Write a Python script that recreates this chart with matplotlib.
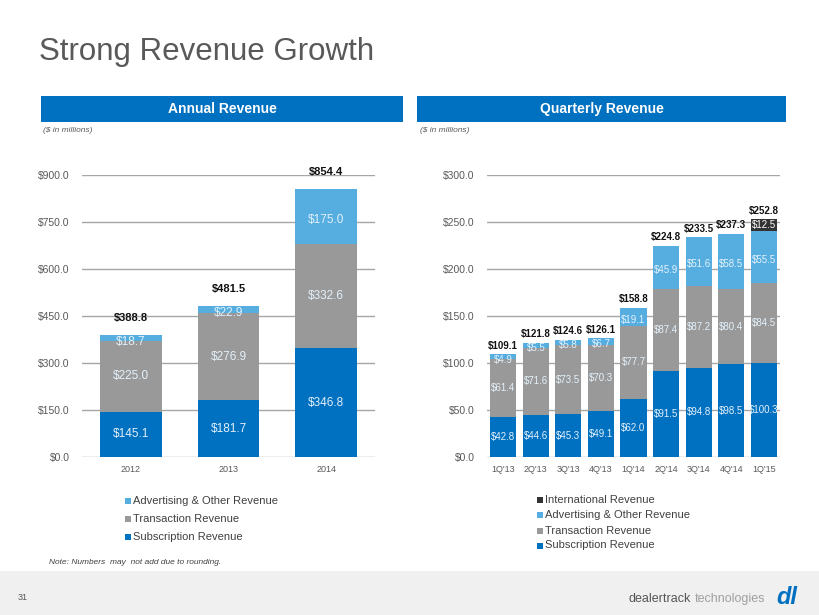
import matplotlib
matplotlib.use("Agg")
import matplotlib.pyplot as plt
from matplotlib.patches import Rectangle
import numpy as np

plt.rcParams['font.family'] = ['Liberation Sans', 'DejaVu Sans']

# ---------------- data ----------------
years = ['2012', '2013', '2014']
ann_sub = [145.1, 181.7, 346.8]
ann_trans = [225.0, 276.9, 332.6]
ann_adv = [18.7, 22.9, 175.0]
ann_total = [388.8, 481.5, 854.4]

quarters = ["1Q'13", "2Q'13", "3Q'13", "4Q'13", "1Q'14", "2Q'14", "3Q'14", "4Q'14", "1Q'15"]
q_sub = [42.8, 44.6, 45.3, 49.1, 62.0, 91.5, 94.8, 98.5, 100.3]
q_trans = [61.4, 71.6, 73.5, 70.3, 77.7, 87.4, 87.2, 80.4, 84.5]
q_adv = [4.9, 5.5, 5.8, 6.7, 19.1, 45.9, 51.6, 58.5, 55.5]
q_intl = [0, 0, 0, 0, 0, 0, 0, 0, 12.5]
q_total = [109.1, 121.8, 124.6, 126.1, 158.8, 224.8, 233.5, 237.3, 252.8]

ann_ticks = [0, 150, 300, 450, 600, 750, 900]
q_ticks = [0, 50, 100, 150, 200, 250, 300]

C_SUB = '#0070C0'
C_TRANS = '#999999'
C_ADV = '#56AEE0'
C_INTL = '#333333'
C_LBL = '#E4F1FB'
C_TXT = '#595959'

W, H = 820, 615
fig = plt.figure(figsize=(W / 100, H / 100), dpi=100)
fig.patch.set_facecolor('white')

def fx(x):
    return x / W

def fy(y):
    return 1 - y / H

# ---------------- header ----------------
fig.text(fx(39), fy(52), 'Strong Revenue Growth', fontsize=22.5, color=C_TXT,
         ha='left', va='center')

for (x0, x1, label) in [(41, 403, 'Annual Revenue'), (417, 786, 'Quarterly Revenue')]:
    fig.add_artist(Rectangle((fx(x0), fy(122)), fx(x1 - x0), (122 - 96) / H,
                             facecolor=C_SUB, edgecolor='none', transform=fig.transFigure))
    fig.text(fx((x0 + x1) / 2), fy(109), label, fontsize=10, fontweight='bold',
             color='white', ha='center', va='center')

fig.text(fx(43), fy(131), '($ in millions)', fontsize=6, style='italic', color=C_TXT,
         ha='left', va='center')
fig.text(fx(420), fy(131), '($ in millions)', fontsize=6, style='italic', color=C_TXT,
         ha='left', va='center')

# ---------------- footer ----------------
fig.add_artist(Rectangle((0, 0), 1, (615 - 571) / H, facecolor='#F0F0F0',
                         edgecolor='none', transform=fig.transFigure))
fig.text(fx(49), fy(563), 'Note: Numbers  may  not add due to rounding.', fontsize=6,
         style='italic', color='#404040', ha='left', va='center')
fig.text(fx(18), fy(598), '31', fontsize=6.5, color=C_TXT, ha='left', va='center')
fig.text(fx(629), fy(599), 'dealertrack', fontsize=9, color='#555555',
         ha='left', va='center')
fig.text(fx(695), fy(599), 'technologies', fontsize=9, color='#A0A0A0',
         ha='left', va='center')
fig.text(fx(776), fy(598), 'dl', fontsize=17, fontweight='bold', style='italic',
         color=C_SUB, ha='left', va='center')

# ---------------- axes helper ----------------
def style_axes(ax, ticks, cats):
    ax.set_ylim(ticks[0], ticks[-1])
    ax.set_xlim(-0.5, len(cats) - 0.5)
    ax.set_yticks(ticks)
    ax.set_yticklabels(['$%.1f' % t for t in ticks])
    ax.set_xticks(np.arange(len(cats)))
    ax.set_xticklabels(cats)
    ax.tick_params(axis='both', length=0, labelsize=7.5, labelcolor=C_TXT)
    ax.tick_params(axis='y', pad=9)
    ax.tick_params(axis='x', pad=6, labelsize=6.5)
    for s in ax.spines.values():
        s.set_visible(False)
    ax.yaxis.grid(True, color='#A6A6A6', linewidth=1)
    ax.set_axisbelow(True)
    ax.patch.set_alpha(0)

def label_segments(ax, x, bottoms, vals, fs, color=C_LBL):
    for xi, b, v in zip(x, bottoms, vals):
        if v <= 0:
            continue
        ax.text(xi, b + v / 2, '$%.1f' % v, ha='center', va='center',
                fontsize=fs, color=color)

# ---------------- annual ----------------
axL = fig.add_axes([fx(82), fy(457), fx(375 - 82), (457 - 175) / H])
style_axes(axL, ann_ticks, years)
x = np.arange(len(years))
bw = 0.63
b0 = np.zeros(len(years))
axL.bar(x, ann_sub, bw, bottom=b0, color=C_SUB)
label_segments(axL, x, b0, ann_sub, 8.5)
b1 = b0 + np.array(ann_sub)
axL.bar(x, ann_trans, bw, bottom=b1, color=C_TRANS)
label_segments(axL, x, b1, ann_trans, 8.5)
b2 = b1 + np.array(ann_trans)
axL.bar(x, ann_adv, bw, bottom=b2, color=C_ADV)
label_segments(axL, x, b2 - 12, ann_adv, 8.5)
for xi, t in zip(x, ann_total):
    axL.annotate('$%.1f' % t, (xi, t), xytext=(0, 9), textcoords='offset points',
                 ha='center', va='bottom', fontsize=8, fontweight='bold', color='#111111')

# ---------------- quarterly ----------------
axR = fig.add_axes([fx(487), fy(457), fx(780 - 487), (457 - 175) / H])
style_axes(axR, q_ticks, quarters)
x = np.arange(len(quarters))
bw = 0.8
b0 = np.zeros(len(quarters))
axR.bar(x, q_sub, bw, bottom=b0, color=C_SUB)
label_segments(axR, x, b0, q_sub, 7)
b1 = b0 + np.array(q_sub)
axR.bar(x, q_trans, bw, bottom=b1, color=C_TRANS)
label_segments(axR, x, b1, q_trans, 7)
b2 = b1 + np.array(q_trans)
axR.bar(x, q_adv, bw, bottom=b2, color=C_ADV)
label_segments(axR, x, b2 - 3, q_adv, 7)
b3 = b2 + np.array(q_adv)
axR.bar(x, q_intl, bw, bottom=b3, color=C_INTL)
label_segments(axR, x, b3, q_intl, 7, color='white')
for xi, t in zip(x, q_total):
    axR.annotate('$%.1f' % t, (xi, t), xytext=(0, 2.5), textcoords='offset points',
                 ha='center', va='bottom', fontsize=7, fontweight='bold', color='#111111')

# ---------------- legends ----------------
def legend(x0, rows, items):
    for y, (lab, col) in zip(rows, items):
        fig.add_artist(Rectangle((fx(x0), fy(y + 3)), fx(6), 6 / H, facecolor=col,
                                 edgecolor='none', transform=fig.transFigure))
        fig.text(fx(x0 + 8), fy(y), lab, fontsize=8, color='#404040',
                 ha='left', va='center')

legend(125, [501, 519, 537], [('Advertising & Other Revenue', C_ADV),
                              ('Transaction Revenue', C_TRANS),
                              ('Subscription Revenue', C_SUB)])
legend(537, [500, 515, 530.5, 545.5], [('International Revenue', C_INTL),
                                        ('Advertising & Other Revenue', C_ADV),
                                        ('Transaction Revenue', C_TRANS),
                                        ('Subscription Revenue', C_SUB)])

fig.savefig('out.png', dpi=100)
